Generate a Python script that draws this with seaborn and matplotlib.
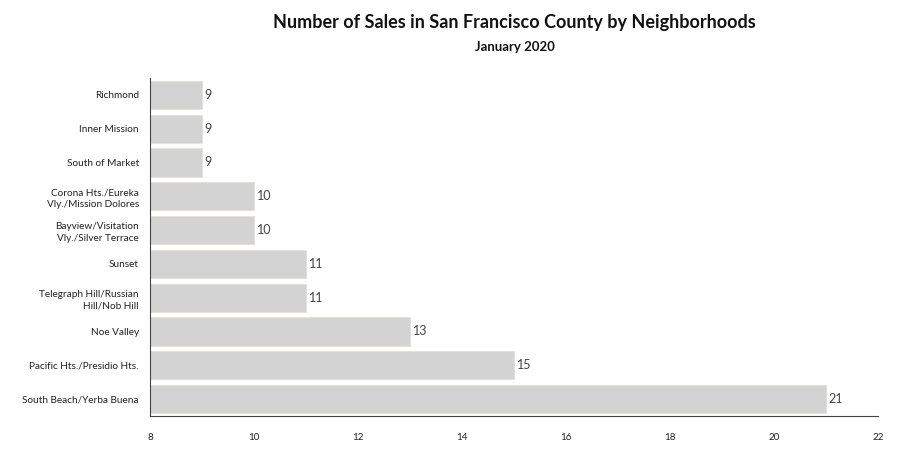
import matplotlib
matplotlib.use("Agg")
import matplotlib.pyplot as plt
import seaborn as sns
import pandas as pd

neighborhoods = ["Richmond", "Inner Mission", "South of Market",
                 "Corona Hts./Eureka\nVly./Mission Dolores",
                 "Bayview/Visitation\nVly./Silver Terrace",
                 "Sunset", "Telegraph Hill/Russian\nHill/Nob Hill",
                 "Noe Valley", "Pacific Hts./Presidio Hts.",
                 "South Beach/Yerba Buena"]
sales = [9, 9, 9, 10, 10, 11, 11, 13, 15, 21]
x_ticks = [8, 10, 12, 14, 16, 18, 20, 22]

df = pd.DataFrame({"neighborhood": neighborhoods, "sales": sales})

sns.set_style("white")
plt.rcParams["font.family"] = ["Lato", "DejaVu Sans"]

fig = plt.figure(figsize=(9, 4.5), dpi=100)
ax = fig.add_axes([0.1667, 0.0756, 0.8089, 0.7511])

sns.barplot(data=df, y="neighborhood", x="sales", orient="h", color="#d3d3d3",
            edgecolor="#e6e0d6", linewidth=0.8, width=0.83, ax=ax, saturation=1)

ax.set_xlim(8, 22)
ax.set_ylim(9.5, -0.5)
ax.set_xticks(x_ticks)
ax.set_xticklabels([str(t) for t in x_ticks], fontsize=7, color="#222222")
ax.tick_params(axis="x", length=0, pad=12)
ax.tick_params(axis="y", length=0, pad=8, labelsize=7.2, labelcolor="#222222")
for lab in ax.get_yticklabels():
    lab.set_horizontalalignment("right")
    lab.set_linespacing(1.4)
ax.set_xlabel("")
ax.set_ylabel("")

for c in ax.containers:
    ax.bar_label(c, fontsize=9, color="#444444", padding=2)

sns.despine(ax=ax)
for s in ["left", "bottom"]:
    ax.spines[s].set_color("#444444")
    ax.spines[s].set_linewidth(0.8)

fig.text(0.572, 0.95, "Number of Sales in San Francisco County by Neighborhoods",
         ha="center", va="center", fontsize=13, fontweight="bold", color="#111111")
fig.text(0.572, 0.895, "January 2020", ha="center", va="center",
         fontsize=9.5, fontweight="bold", color="#111111")

fig.savefig("out.png", dpi=100)
